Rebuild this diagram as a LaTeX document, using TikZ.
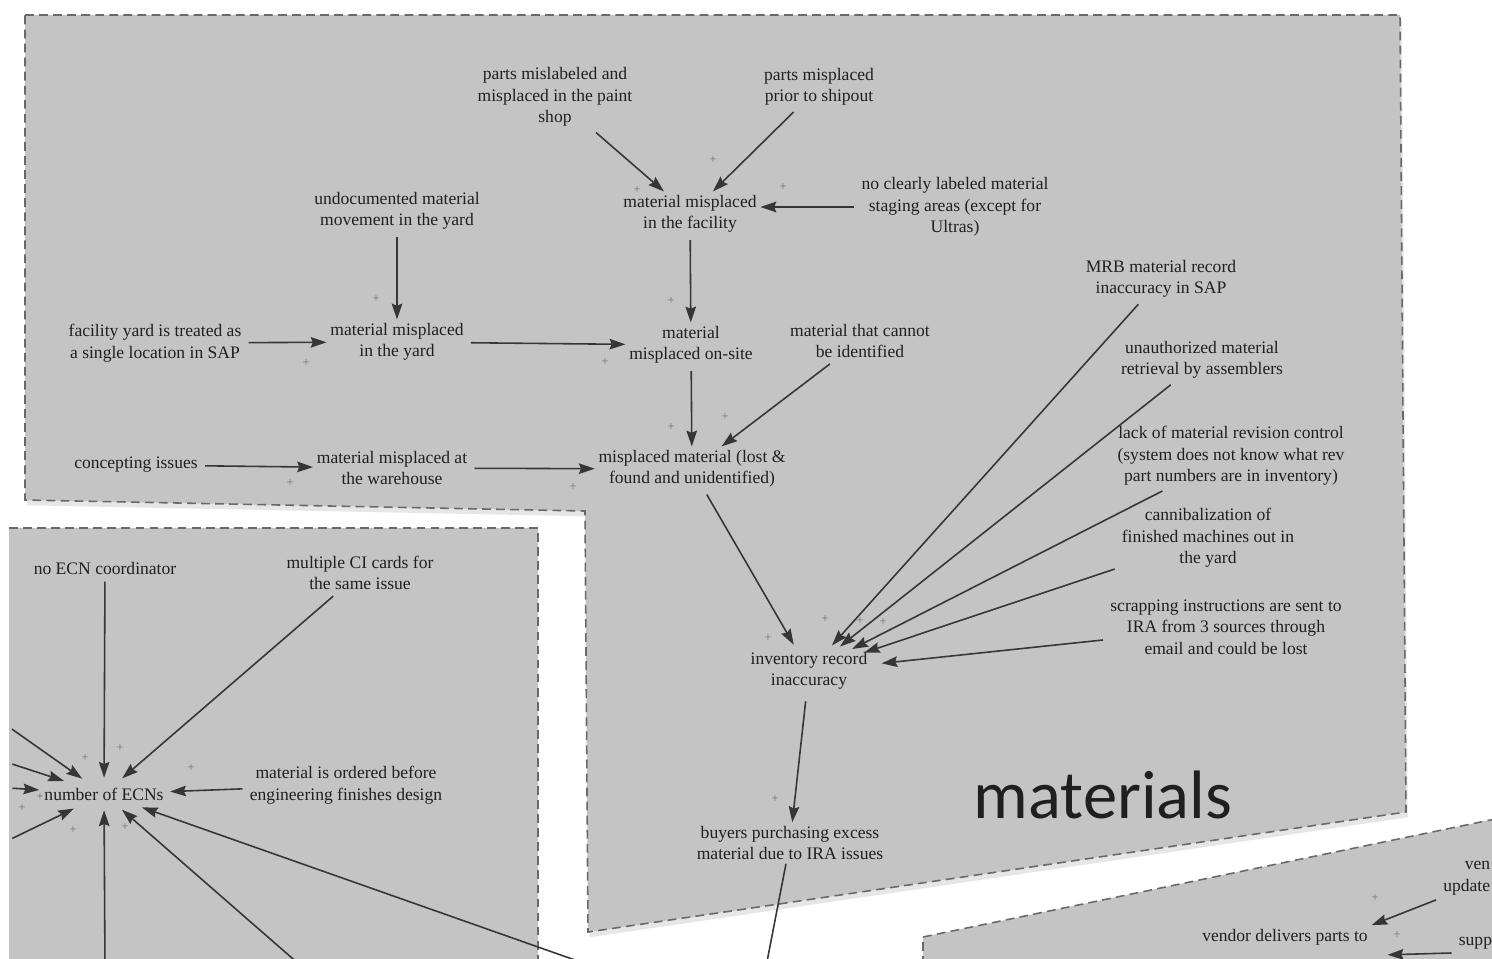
\documentclass[tikz,border=0pt]{standalone}
\usepackage{fontspec}
\setmainfont{Liberation Serif}
\newfontfamily\titlefont{Carlito}
\usepackage{tikz}
\usetikzlibrary{calc,arrows.meta,shapes.geometric,shadows}

\definecolor{panel}{RGB}{196,196,196}
\definecolor{ink}{RGB}{32,32,32}
\definecolor{edge}{RGB}{105,105,105}

\begin{document}
\begin{tikzpicture}[x=0.02cm,y=-0.02cm,
    var/.style={font=\fontsize{10}{12.2}\selectfont,text=ink,align=center,inner sep=2pt},
    hub/.style={var,ellipse,inner xsep=-0.25cm,inner ysep=0.1cm},
    link/.style={draw=ink!90,line width=0.9pt,-{Stealth[length=9pt,width=6pt,inset=1.2pt]},shorten <=2pt},
    wire/.style={draw=ink!90,line width=0.9pt},
    pls/.style={font=\fontsize{7}{7}\selectfont,text=ink!65,inner sep=0pt},
    board/.style={fill=panel,draw=edge,line width=0.9pt,dash pattern=on 5pt off 3pt}]

    \useasboundingbox (0,0) rectangle (1492,958);
    \clip (0,0) rectangle (1492,958);

    % Panels behind the loops
    \filldraw[board,drop shadow={opacity=0.2,shadow xshift=1pt,shadow yshift=-3pt}]
        (25,15) -- (1400,15) -- (1406,812) -- (588,932) -- (585,511) -- (25,500) -- cycle;
    \fill[panel] (9,528) rectangle (538,965);
    \draw[board,fill=none] (9,528) -- (538,528) -- (538,965);
    \filldraw[board] (923,965) -- (923,937) -- (1500,818) -- (1500,965) -- cycle;

    % Materials loop
    \node[var] (paintShop) at (555,97) {parts mislabeled and\\misplaced in the paint\\shop};
    \node[var] (shipout) at (819,87) {parts misplaced\\prior to shipout};
    \node[var] (facility) at (690,214) {material misplaced\\in the facility};
    \node[var] (staging) at (955,207) {no clearly labeled material\\staging areas (except for\\Ultras)};
    \node[var] (undocYard) at (397,211) {undocumented material\\movement in the yard};
    \node[var] (mrb) at (1161,279) {MRB material record\\inaccuracy in SAP};
    \node[var] (yardSAP) at (155,343) {facility yard is treated as\\a single location in SAP};
    \node[var] (inYard) at (397,342) {material misplaced\\in the yard};
    \node[var] (onSite) at (691,345) {material\\misplaced on-site};
    \node[var] (notIdent) at (860,341) {material that cannot\\be identified};
    \node[var] (unauth) at (1202,360) {unauthorized material\\retrieval by assemblers};
    \node[var] (revCtrl) at (1231,456) {lack of material revision control\\(system does not know what rev\\part numbers are in inventory)};
    \node[var] (concepting) at (136,465) {concepting issues};
    \node[var] (warehouse) at (392,468) {material misplaced at\\the warehouse};
    \node[var] (lostFound) at (692,469) {misplaced material (lost \&\\found and unidentified)};
    \node[var] (cannibal) at (1208,538) {cannibalization of\\finished machines out in\\the yard};
    \node[var] (scrapping) at (1226,627) {scrapping instructions are sent to\\IRA from 3 sources through\\email and could be lost};
    \node[var,ellipse,inner xsep=-0.1cm,inner ysep=0pt] (invRecord) at (809,671) {inventory record\\inaccuracy};
    \node[var] (buyers) at (790,843) {buyers purchasing excess\\material due to IRA issues};
    \node[font=\titlefont\fontsize{39}{40}\selectfont,text=black!88] (title) at (1103,795) {materials};
    \coordinate (bEnd) at (765,972);

    \draw[link] (paintShop) -- (facility);
    \draw[link] (shipout) -- (facility);
    \draw[link] (staging.west) -- (staging.west -| facility.east);
    \draw[link] (undocYard) -- (inYard);
    \draw[link] (facility) -- (onSite);
    \draw[link] (yardSAP) -- (inYard);
    \draw[link] (inYard) -- (onSite);
    \draw[link] (onSite) -- (lostFound);
    \draw[link] (notIdent) -- (lostFound);
    \draw[link] (concepting) -- (warehouse);
    \draw[link] (warehouse) -- (lostFound);
    \draw[link] (lostFound) -- (invRecord);
    \draw[link] (mrb) -- (invRecord);
    \draw[link] (unauth) -- (invRecord);
    \draw[link] (revCtrl) -- (invRecord);
    \draw[link] (cannibal) -- (invRecord);
    \draw[link] (scrapping) -- (invRecord);
    \draw[link] (invRecord) -- (buyers);
    \draw[wire] (buyers) -- (bEnd);

    % ECN loop
    \node[var] (noCoord) at (105,568) {no ECN coordinator};
    \node[var] (ciCards) at (360,573) {multiple CI cards for\\the same issue};
    \node[hub] (ecn) at (104,794) {number of ECNs};
    \node[var] (orderedEarly) at (346,785) {material is ordered before\\engineering finishes design};
    \coordinate (w1) at (9,727);
    \coordinate (w2) at (9,763);
    \coordinate (w3) at (9,788);
    \coordinate (w4) at (9,840);
    \coordinate (s1) at (105,972);
    \coordinate (s2) at (308,972);
    \coordinate (s3) at (592,966);

    \draw[link] (noCoord) -- (ecn);
    \draw[link] (ciCards) -- (ecn);
    \draw[link] (orderedEarly) -- (ecn);
    \foreach \src in {w1,w2,w3,w4,s1,s2,s3}
        \draw[link] (\src) -- (ecn);

    % Vendor loop (cut off)
    \node[var] (vendorDel) at (1285,937) {vendor delivers parts to};
    \node[var,anchor=east,align=right] (vendorUpd) at (1494,878) {ven\\update};
    \node[var,anchor=west] (supp) at (1455,943) {supp};
    \draw[link] (vendorUpd.south west) -- (vendorDel.north east);
    \draw[link] (supp.south west) -- ($(vendorDel.south east)+(16,6)$);

    % Polarity signs
    \foreach \px/\py [count=\k] in {637/190,713/160,783/187,376/299,671/301,306/363,605/362,
        671/427,725/417,290/483,573/487,768/638,825/619,860/621,883/622,775/799,
        120/748,85/758,191/768,40/797,22/808,73/830,125/827,1375/898,1397/935}
        \node[pls] (plus\k) at (\px,\py) {+};

\end{tikzpicture}
\end{document}
